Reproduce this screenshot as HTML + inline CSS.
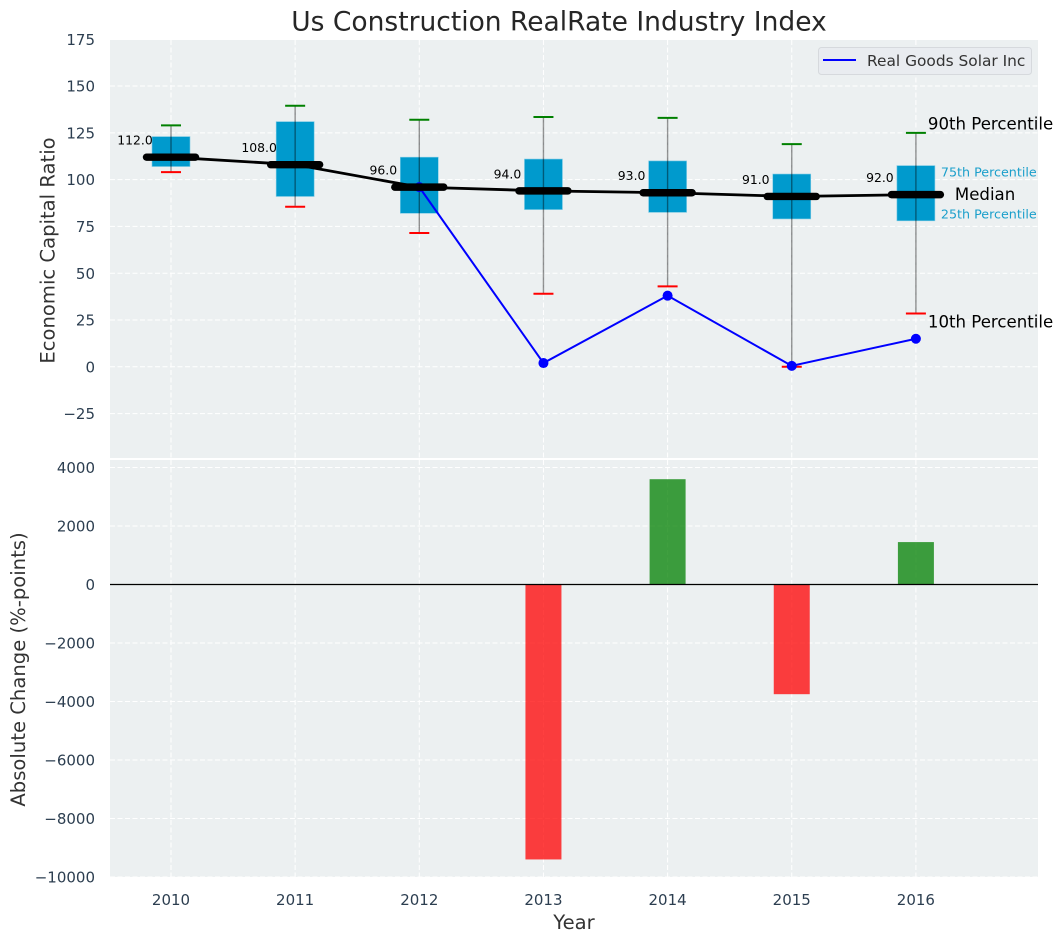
<!DOCTYPE html>
<html lang="en">
<head>
<meta charset="utf-8">
<title>Us Construction RealRate Industry Index</title>
<style>
html,body{margin:0;padding:0;background:#fff;}
svg{display:block;font-family:"DejaVu Sans","Liberation Sans",sans-serif;}
</style>
</head>
<body>
<svg id="chart" xmlns="http://www.w3.org/2000/svg" width="1063" height="942" viewBox="0 0 1063 942">
<text x="559" y="30.5" font-size="26.5" fill="#262626" text-anchor="middle">Us Construction RealRate Industry Index</text>
<rect x="110" y="40" width="928" height="418" fill="#ecf0f1"/>
<rect x="110" y="460" width="928" height="417" fill="#ecf0f1"/>
<g id="bottom-grid"></g>
<g id="top-grid"></g>
<g id="bars"></g>
<line x1="110" x2="1038" y1="584.5" y2="584.5" stroke="#000" stroke-width="1.2"/>
<g id="boxes"></g>
<g id="company"></g>
<g id="medians"></g>
<g id="ticks"></g>
<g id="key"></g>
<text transform="translate(54.5,250.5) rotate(-90)" font-size="19.6" fill="#333" text-anchor="middle">Economic Capital Ratio</text>
<text transform="translate(25,669.5) rotate(-90)" font-size="19.6" fill="#333" text-anchor="middle">Absolute Change (%-points)</text>
<text x="574" y="929" font-size="19.6" fill="#333" text-anchor="middle">Year</text>
<g>
<rect x="818.5" y="47.5" width="213" height="27" rx="3" fill="#e9ecf0" stroke="#d6d9dd"/>
<line x1="823" x2="856" y1="60" y2="60" stroke="#0000ff" stroke-width="2"/>
<text x="867" y="66" font-size="15.4" fill="#333">Real Goods Solar Inc</text>
</g>
</svg>
<script>
const years = [2010, 2011, 2012, 2013, 2014, 2015, 2016];
const p90 = [129, 139.5, 132, 133.5, 133, 119, 125];
const p75 = [123, 131, 112, 111, 110, 103, 107.5];
const medianValues = [112, 108, 96, 94, 93, 91, 92];
const p25 = [107, 91, 82, 84, 82.5, 79, 78];
const p10 = [104, 85.5, 71.5, 39, 43, 0, 28.5];
const companyYears = [2012, 2013, 2014, 2015, 2016];
const companyValues = [96, 2, 38, 0.5, 15];
const changeYears = [2013, 2014, 2015, 2016];
const changeValues = [-9400, 3600, -3750, 1450];
const topTicks = [-25, 0, 25, 50, 75, 100, 125, 150, 175];
const bottomTicks = [-10000, -8000, -6000, -4000, -2000, 0, 2000, 4000];

const NS = 'http://www.w3.org/2000/svg';
const xScale = function (v) { return 171 + (v - 2010) * 124.15; };
const yTop = function (v) { return 366.8 - v * 1.8716; };
const yBottom = function (v) { return 584.5 - v * 0.02925; };

function make(parent, tag, attrs, text) {
  const el = document.createElementNS(NS, tag);
  for (const k in attrs) el.setAttribute(k, attrs[k]);
  if (text !== undefined) el.textContent = text;
  parent.appendChild(el);
  return el;
}
const g = function (id) { return document.getElementById(id); };
const DASH = '5 2.5';

topTicks.forEach(function (t) {
  const el = make(g('top-grid'), 'line', {x1: 110, x2: 1038, y1: yTop(t), y2: yTop(t), stroke: '#fff', 'stroke-width': 1, 'stroke-dasharray': DASH});
  
  
  const lab = make(g('ticks'), 'text', {x: 95, y: yTop(t) + 5.6, 'font-size': 15, fill: '#2c3e50', 'text-anchor': 'end'}, String(t).replace('-', '\u2212'));
  
  
});
bottomTicks.forEach(function (t) {
  const el = make(g('bottom-grid'), 'line', {x1: 110, x2: 1038, y1: yBottom(t), y2: yBottom(t), stroke: '#fff', 'stroke-width': 1, 'stroke-dasharray': DASH});
  
  
  const lab = make(g('ticks'), 'text', {x: 95, y: yBottom(t) + 5.6, 'font-size': 15, fill: '#2c3e50', 'text-anchor': 'end'}, String(t).replace('-', '\u2212'));
  
  
});
years.forEach(function (y) {
  const x = xScale(y);
  const a = make(g('top-grid'), 'line', {x1: x, x2: x, y1: 40, y2: 458, stroke: '#fff', 'stroke-width': 1, 'stroke-dasharray': DASH});
  
  
  const b = make(g('bottom-grid'), 'line', {x1: x, x2: x, y1: 460, y2: 877, stroke: '#fff', 'stroke-width': 1, 'stroke-dasharray': DASH});
  
  
  const lab = make(g('ticks'), 'text', {x: x, y: 905, 'font-size': 15, fill: '#2c3e50', 'text-anchor': 'middle'}, String(y));
  
  
});

changeYears.forEach(function (y, i) {
  const v = changeValues[i];
  const y0 = yBottom(0), y1 = yBottom(v);
  const r = make(g('bars'), 'rect', {x: xScale(y) - 18, width: 36, y: Math.min(y0, y1), height: Math.abs(y1 - y0), fill: v < 0 ? '#ff0000' : '#008000', 'fill-opacity': 0.75});
  
  
});

years.forEach(function (y, i) {
  const x = xScale(y);
  const box = make(g('boxes'), 'rect', {x: x - 19, width: 38, y: yTop(p75[i]), height: yTop(p25[i]) - yTop(p75[i]), fill: '#009acd', stroke: '#7fcbe5', 'stroke-width': 0.6});
  
  
  const wh = make(g('boxes'), 'line', {x1: x, x2: x, y1: yTop(p90[i]), y2: yTop(p10[i]), stroke: '#000', 'stroke-opacity': 0.42, 'stroke-width': 1.4});
  
  
  const hi = make(g('boxes'), 'line', {x1: x - 10, x2: x + 10, y1: yTop(p90[i]), y2: yTop(p90[i]), stroke: '#008000', 'stroke-width': 2});
  
  
  const lo = make(g('boxes'), 'line', {x1: x - 10, x2: x + 10, y1: yTop(p10[i]), y2: yTop(p10[i]), stroke: '#ff0000', 'stroke-width': 2});
  
  
});

const companyLine = make(g('company'), 'polyline', {
  points: companyYears.map(function (y, i) { return xScale(y) + ',' + yTop(companyValues[i]); }).join(' '),
  fill: 'none', stroke: '#0000ff', 'stroke-width': 2
});


companyYears.forEach(function (y, i) {
  const c = make(g('company'), 'circle', {cx: xScale(y), cy: yTop(companyValues[i]), r: 5, fill: '#0000ff'});
  
  
});

const medianLine = make(g('medians'), 'polyline', {
  points: years.map(function (y, i) { return xScale(y) + ',' + yTop(medianValues[i]); }).join(' '),
  fill: 'none', stroke: '#000', 'stroke-width': 2.8
});


years.forEach(function (y, i) {
  const x = xScale(y), v = yTop(medianValues[i]);
  const m = make(g('medians'), 'line', {x1: x - 24.5, x2: x + 24.5, y1: v, y2: v, stroke: '#000', 'stroke-width': 7.4, 'stroke-linecap': 'round'});
  
  
  const t = make(g('medians'), 'text', {x: x - 36, y: v - 12.5, 'font-size': 12.4, fill: '#000', 'text-anchor': 'middle'}, medianValues[i].toFixed(1));
  
  
});

const last = years.length - 1;
const lx = xScale(years[last]);
const k90 = make(g('key'), 'text', {x: lx + 12, y: yTop(p90[last]) - 3.5, 'font-size': 16.6, fill: '#000'}, '90th Percentile');


const k75 = make(g('key'), 'text', {x: lx + 25, y: yTop(p75[last]) + 11, 'font-size': 12.7, fill: '#1a9fcb'}, '75th Percentile');


const kMed = make(g('key'), 'text', {x: lx + 39, y: yTop(medianValues[last]) + 5.5, 'font-size': 16.6, fill: '#000'}, 'Median');


const k25 = make(g('key'), 'text', {x: lx + 25, y: yTop(p25[last]) - 2.5, 'font-size': 12.7, fill: '#1a9fcb'}, '25th Percentile');


const k10 = make(g('key'), 'text', {x: lx + 12, y: yTop(p10[last]) + 14, 'font-size': 16.6, fill: '#000'}, '10th Percentile');


</script>
</body>
</html>
